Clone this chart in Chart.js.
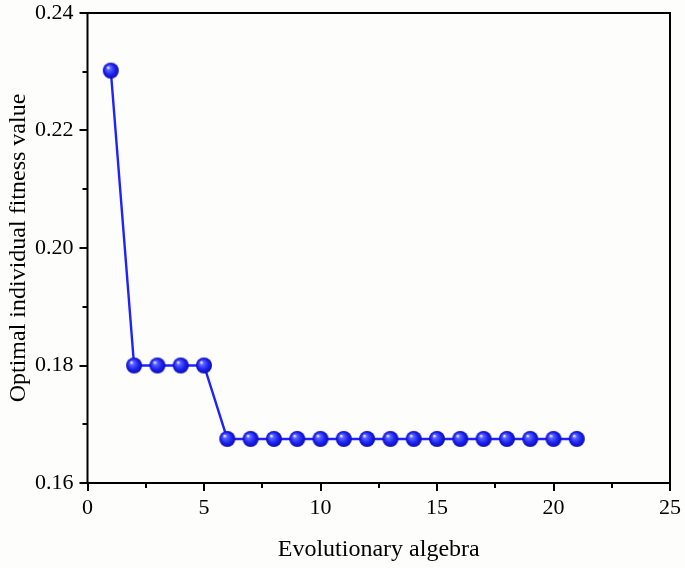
<!DOCTYPE html>
<html lang="en">
<head>
    <meta charset="UTF-8">
    <title>Optimal individual fitness value</title>
    <script src="https://cdn.jsdelivr.net/npm/chart.js"></script>
    <style>
        html, body { margin: 0; padding: 0; background: #fdfdfb; }
        #wrap { width: 685px; height: 568px; }
    </style>
</head>
<body>
    <div id="wrap"><canvas id="fitChart"></canvas></div>

    <script>
        const generations = [1, 2, 3, 4, 5, 6, 7, 8, 9, 10, 11, 12, 13, 14, 15, 16, 17, 18, 19, 20, 21];
        const fitness = [0.2302, 0.1800, 0.1800, 0.1800, 0.1800,
            0.1675, 0.1675, 0.1675, 0.1675, 0.1675, 0.1675, 0.1675, 0.1675, 0.1675,
            0.1675, 0.1675, 0.1675, 0.1675, 0.1675, 0.1675, 0.1675];
        const xTicks = [0, 5, 10, 15, 20, 25];
        const yTicks = [0.16, 0.18, 0.20, 0.22, 0.24];

        const serif = '"Liberation Serif", "Times New Roman", serif';

        // blue shaded ball used as the marker
        function makeBall(r) {
            const c = document.createElement('canvas');
            c.width = c.height = Math.ceil(r * 2 + 2);
            const g = c.getContext('2d');
            const cx = c.width / 2, cy = c.height / 2;
            const grad = g.createRadialGradient(cx - r * 0.35, cy - r * 0.4, r * 0.05, cx, cy, r);
            grad.addColorStop(0, '#eef0ff');
            grad.addColorStop(0.22, '#5a63ff');
            grad.addColorStop(0.65, '#1c22f2');
            grad.addColorStop(1, '#0b0cae');
            g.fillStyle = grad;
            g.beginPath();
            g.arc(cx, cy, r, 0, Math.PI * 2);
            g.fill();
            return c;
        }

        // frame + outward major/minor ticks
        const frameTicks = {
            id: 'frameTicks',
            afterDraw(chart) {
                const ctx = chart.ctx, a = chart.chartArea;
                const xs = chart.scales.x, ys = chart.scales.y;
                ctx.save();
                ctx.strokeStyle = '#000';
                ctx.lineWidth = 2;
                ctx.strokeRect(a.left, a.top, a.right - a.left, a.bottom - a.top);
                ctx.beginPath();
                for (let v = 0; v <= 25.001; v += 2.5) {
                    const px = Math.round(xs.getPixelForValue(v));
                    const len = (Math.abs(v % 5) < 0.01) ? 8 : 5;
                    ctx.moveTo(px, a.bottom);
                    ctx.lineTo(px, a.bottom + len);
                }
                for (let i = 0; i <= 8; i++) {
                    const v = 0.16 + i * 0.01;
                    const py = Math.round(ys.getPixelForValue(v));
                    const len = (i % 2 === 0) ? 8 : 5;
                    ctx.moveTo(a.left, py);
                    ctx.lineTo(a.left - len, py);
                }
                ctx.stroke();
                ctx.restore();
            }
        };

        const ctx = document.getElementById('fitChart').getContext('2d');
        new Chart(ctx, {
            type: 'line',
            data: {
                labels: generations,
                datasets: [{
                    data: generations.map((g, i) => ({ x: g, y: fitness[i] })),
                    borderColor: '#1f22ff',
                    borderWidth: 2.4,
                    pointStyle: makeBall(8),
                    pointRadius: 8,
                    pointHoverRadius: 8,
                    tension: 0
                }]
            },
            options: {
                responsive: true,
                maintainAspectRatio: false,
                animation: false,
                layout: { padding: { left: 0, right: 15, top: 13, bottom: 0 } },
                plugins: {
                    legend: { display: false },
                    tooltip: { enabled: false }
                },
                scales: {
                    x: {
                        type: 'linear',
                        min: 0,
                        max: 25,
                        afterBuildTicks: s => { s.ticks = xTicks.map(v => ({ value: v })); },
                        afterFit: s => { s.height = 85; s.paddingLeft = 0; s.paddingRight = 0; },
                        grid: { display: false, drawTicks: false },
                        border: { display: false },
                        ticks: {
                            color: '#000',
                            padding: 12,
                            maxRotation: 0,
                            font: { family: serif, size: 22 }
                        },
                        title: {
                            display: true,
                            text: 'Evolutionary algebra',
                            color: '#000',
                            padding: { top: 10 },
                            font: { family: serif, size: 24 }
                        }
                    },
                    y: {
                        min: 0.16,
                        max: 0.24,
                        afterBuildTicks: s => { s.ticks = yTicks.map(v => ({ value: v })); },
                        afterFit: s => { s.width = 87.5; s.paddingTop = 0; s.paddingBottom = 0; },
                        grid: { display: false, drawTicks: false },
                        border: { display: false },
                        ticks: {
                            color: '#000',
                            padding: 14,
                            font: { family: serif, size: 22 },
                            callback: v => v.toFixed(2)
                        },
                        title: {
                            display: true,
                            text: 'Optimal individual fitness value',
                            color: '#000',
                            padding: { bottom: 2 },
                            font: { family: serif, size: 24 }
                        }
                    }
                }
            },
            plugins: [frameTicks]
        });
    </script>
</body>
</html>
